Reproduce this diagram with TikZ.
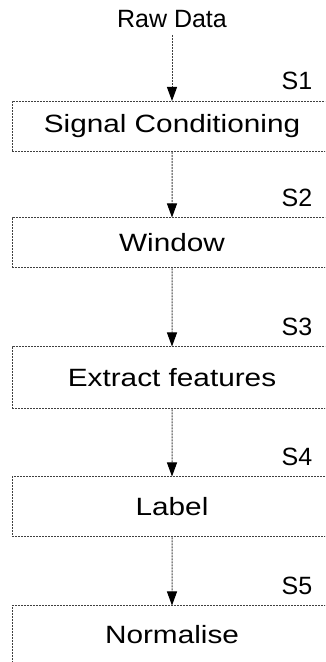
\documentclass[tikz,border=0pt]{standalone}
\usepackage{fontspec}
\setmainfont{Liberation Sans}
\newfontfamily\boxfont[FakeStretch=1.19]{Liberation Sans}
\usetikzlibrary{arrows.meta}

\begin{document}
\begin{tikzpicture}[
		x=1pt, y=1pt,
		font=\fontsize{25}{30}\selectfont,
		stepbox/.style = {shape=rectangle,
			draw=black!75, dash pattern=on 2pt off 1pt, line width=1pt,
			minimum width=320pt, inner sep=0pt,
			font=\boxfont\fontsize{25}{30}\selectfont},
		steplabel/.style = {anchor=base east, inner sep=0pt,
			xshift=-20pt, yshift=11pt, font=\rmfamily\fontsize{25}{30}\selectfont},
		edge from parent/.style = {draw=black!75, dash pattern=on 2pt off 1pt,
			line width=1pt, -{Triangle[width=10pt,length=14pt,color=black]}}]
		\useasboundingbox (0,0) rectangle (325,662);
		\clip (0,0) rectangle (325,662);
		\node[inner sep=7pt] (raw) at (172,643) {Raw Data}
		child[level distance=107.5pt]
		{
			node[stepbox, minimum height=50pt, label={[steplabel]north east:S1}] (cond) {Signal Conditioning}
			child[level distance=116.5pt]
			{
				node[stepbox, minimum height=50pt, label={[steplabel]north east:S2}] (win) {Window}
				child[level distance=135pt]
				{
					node[stepbox, minimum height=62pt, label={[steplabel]north east:S3}] (feat) {Extract features}
					child[level distance=129pt]
					{
						node[stepbox, minimum height=60pt, label={[steplabel]north east:S4}] (lab) {Label}
						child[level distance=128pt]
						{
							node[stepbox, minimum height=58pt, label={[steplabel]north east:S5}] (norm) {Normalise}
						}
					}
				}
			}
		}
		;
		\end{tikzpicture}
\end{document}
